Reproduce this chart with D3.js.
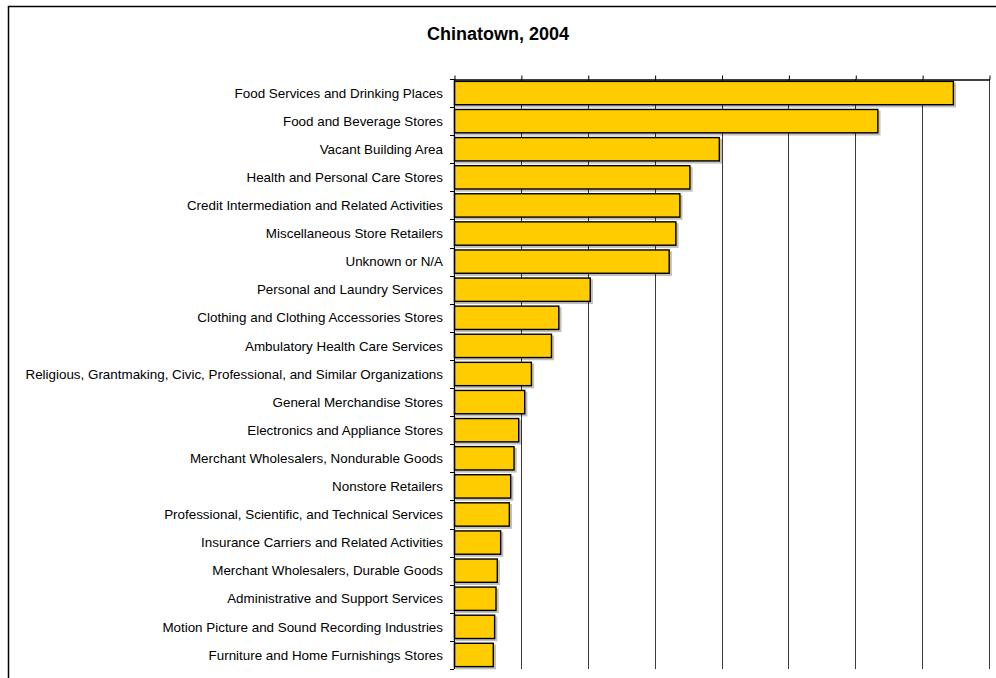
<!DOCTYPE html>
<html>
<head>
<meta charset="utf-8">
<script src="https://cdn.jsdelivr.net/npm/d3@7/dist/d3.min.js"></script>
<style>
  html, body { margin: 0; padding: 0; background: #fff; }
  svg { display: block; }
  text { font-family: "Liberation Sans", Arial, sans-serif; fill: #000; }
</style>
</head>
<body>
<svg id="chart" width="996" height="678"></svg>
<script>
// Chinatown, 2004 — businesses by category
const title = "Chinatown, 2004";

const categories = [
  "Food Services and Drinking Places",
  "Food and Beverage Stores",
  "Vacant Building Area",
  "Health and Personal Care Stores",
  "Credit Intermediation and Related Activities",
  "Miscellaneous Store Retailers",
  "Unknown or N/A",
  "Personal and Laundry Services",
  "Clothing and Clothing Accessories Stores",
  "Ambulatory Health Care Services",
  "Religious, Grantmaking, Civic, Professional, and Similar Organizations",
  "General Merchandise Stores",
  "Electronics and Appliance Stores",
  "Merchant Wholesalers, Nondurable Goods",
  "Nonstore Retailers",
  "Professional, Scientific, and Technical Services",
  "Insurance Carriers and Related Activities",
  "Merchant Wholesalers, Durable Goods",
  "Administrative and Support Services",
  "Motion Picture and Sound Recording Industries",
  "Furniture and Home Furnishings Stores"
];

const values = [
  74.6, 63.3, 39.6, 35.2, 33.7, 33.1, 32.1, 20.3, 15.6, 14.5,
  11.5, 10.5, 9.6, 8.9, 8.4, 8.2, 6.9, 6.4, 6.2, 6.0, 5.8
];

const valueTicks = [0, 10, 20, 30, 40, 50, 60, 70, 80];

const svg = d3.select("#chart");

// outer chart frame (extends past the right and bottom edges)
svg.append("rect")
  .attr("x", 8.5).attr("y", 6.5)
  .attr("width", 1000).attr("height", 700)
  .attr("fill", "#fff").attr("stroke", "#000").attr("stroke-width", 1.5);

svg.append("text")
  .attr("x", 498).attr("y", 40)
  .attr("text-anchor", "middle")
  .style("font-size", "18px").style("font-weight", "bold")
  .text(title);

const plot = { left: 454, right: 989, top: 79, bottom: 669 };

const x = d3.scaleLinear()
  .domain([0, 80])
  .range([plot.left, plot.right]);

const y = d3.scaleBand()
  .domain(categories)
  .range([plot.top, plot.bottom])
  .paddingInner(0.17)
  .paddingOuter(0.085);

const defs = svg.append("defs");
const shadow = defs.append("filter").attr("id", "barShadow")
  .attr("x", "-5%").attr("y", "-20%").attr("width", "115%").attr("height", "150%");
shadow.append("feOffset").attr("in", "SourceAlpha").attr("dx", 2).attr("dy", 2).attr("result", "off");
shadow.append("feComponentTransfer").attr("in", "off").attr("result", "sh")
  .append("feFuncA").attr("type", "linear").attr("slope", 0.25);
const merge = shadow.append("feMerge");
merge.append("feMergeNode").attr("in", "sh");
merge.append("feMergeNode").attr("in", "SourceGraphic");

// vertical gridlines
svg.append("g")
  .selectAll("line")
  .data(valueTicks.slice(1))
  .join("line")
  .attr("x1", d => Math.round(x(d)) + 0.5)
  .attr("x2", d => Math.round(x(d)) + 0.5)
  .attr("y1", plot.top)
  .attr("y2", plot.bottom)
  .attr("stroke", "#3a3a3a")
  .attr("stroke-width", 1);

// value axis along the top, tick marks only
const topAxis = svg.append("g")
  .attr("transform", `translate(0.5,${plot.top + 0.5})`)
  .call(d3.axisTop(x).tickValues(valueTicks).tickFormat("").tickSize(4).tickSizeOuter(0));
topAxis.select(".domain").attr("stroke", "#000").attr("stroke-width", 1.3);
topAxis.selectAll(".tick line").attr("stroke", "#000");

// bars
svg.append("g")
  .selectAll("rect")
  .data(categories.map((c, i) => ({ c, v: values[i] })))
  .join("rect")
  .attr("x", x(0) + 0.5)
  .attr("y", d => y(d.c))
  .attr("width", d => x(d.v) - x(0))
  .attr("height", y.bandwidth())
  .attr("fill", "#FFCC00")
  .attr("stroke", "#000")
  .attr("stroke-width", 1.4)
  .attr("filter", "url(#barShadow)");

// category axis on the left, ticks at band boundaries
const boundaries = categories.map(c => y(c) - y.step() * y.paddingInner() / 2)
  .concat([plot.bottom]);
const leftAxis = svg.append("g");
leftAxis.append("line")
  .attr("x1", plot.left + 0.5).attr("x2", plot.left + 0.5)
  .attr("y1", plot.top).attr("y2", plot.bottom)
  .attr("stroke", "#000").attr("stroke-width", 1.3);
leftAxis.selectAll("line.tk")
  .data(boundaries)
  .join("line")
  .attr("class", "tk")
  .attr("x1", plot.left - 4).attr("x2", plot.left)
  .attr("y1", d => Math.round(d) + 0.5)
  .attr("y2", d => Math.round(d) + 0.5)
  .attr("stroke", "#000");

leftAxis.selectAll("text")
  .data(categories)
  .join("text")
  .attr("x", plot.left - 11)
  .attr("y", d => y(d) + y.bandwidth() / 2)
  .attr("dy", "0.35em")
  .attr("text-anchor", "end")
  .style("font-size", "13.4px")
  .text(d => d);
</script>
</body>
</html>
